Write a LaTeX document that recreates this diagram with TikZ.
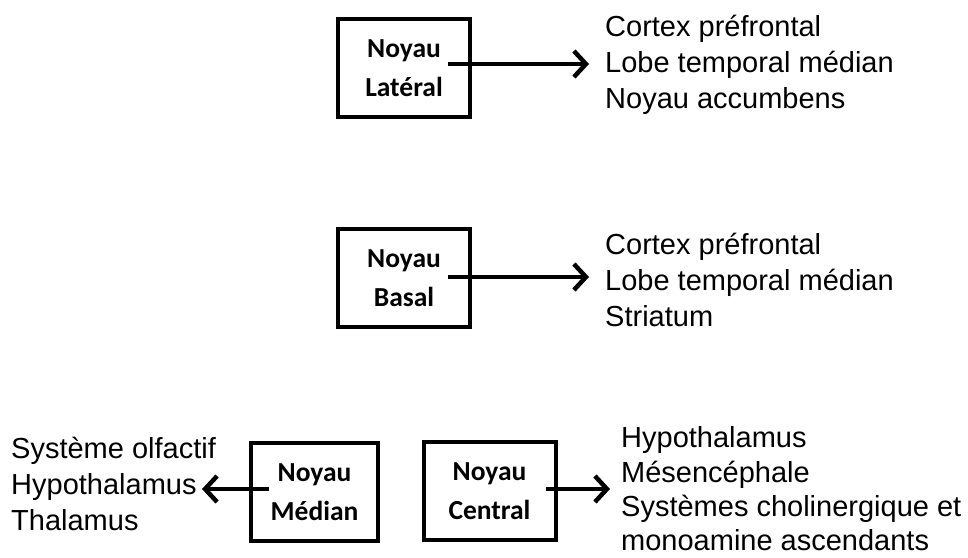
\documentclass[tikz,border=0pt]{standalone}
\usepackage{fontspec}
\setmainfont{Liberation Sans}
\newfontfamily\noyaufont{Carlito}
\usetikzlibrary{arrows.meta}

\begin{document}
\begin{tikzpicture}[x=1pt,y=-1pt,
    noyau/.style={draw,line width=4pt,minimum width=132pt,minimum height=98pt,
      align=center,inner sep=0pt,font=\noyaufont\bfseries\fontsize{27.5}{39}\selectfont},
    liste/.style={anchor=west,align=left,inner sep=0pt,font=\fontsize{29}{36}\selectfont},
    fleche/.style={line width=4.5pt,-{Straight Barb[length=12pt,width=26pt]}}]
  \useasboundingbox (0,0) rectangle (968,557);

  \begin{scope}[every node/.style=noyau]
    \node (lat) at (404,68) {Noyau\\Latéral};
    \node (bas) at (404,278) {Noyau\\Basal};
    \node (med) [minimum width=127pt] at (314.5,492) {Noyau\\Médian};
    \node (cen) at (489.5,491) {Noyau\\Central};
  \end{scope}

  \node (tlat) [liste] at (605,65) {Cortex préfrontal\\Lobe temporal médian\\Noyau accumbens};
  \node (tbas) [liste] at (605,280) {Cortex préfrontal\\Lobe temporal médian\\Striatum};
  \node (tmed) [liste] at (11,484) {Système olfactif\\Hypothalamus\\Thalamus};
  \node (tcen) [liste,font=\fontsize{29}{34.3}\selectfont] at (621,489) {Hypothalamus\\Mésencéphale\\Systèmes cholinergique et\\monoamine ascendants};

  % points de depart des fleches, dans les boites
  \path ([xshift=-24pt,yshift=4pt]lat.east) coordinate (lat-o);
  \path ([xshift=-24pt,yshift=1pt]bas.east) coordinate (bas-o);
  \path ([xshift=20pt,yshift=3pt]med.west) coordinate (med-o);
  \path ([xshift=-12pt,yshift=2pt]cen.east) coordinate (cen-o);
  \coordinate (med-tip) at (202,489);

  \draw [fleche,shorten >=16pt] (lat-o) -- (lat-o -| tlat.west);
  \draw [fleche,shorten >=16pt] (bas-o) -- (bas-o -| tbas.west);
  \draw [fleche] (med-o) -- (med-tip);
  \draw [fleche,shorten >=11pt] (cen-o) -- (cen-o -| tcen.west);
\end{tikzpicture}
\end{document}
